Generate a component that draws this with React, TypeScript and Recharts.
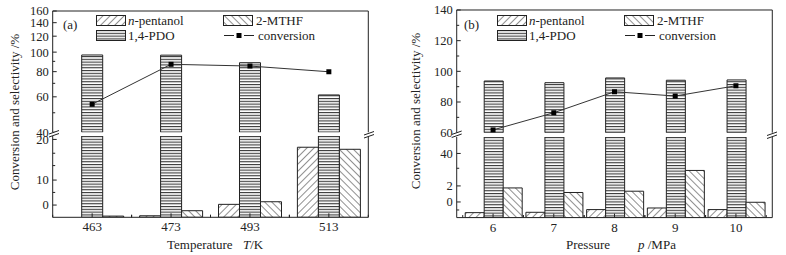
import React from 'react';
import { ComposedChart, Bar, Line, XAxis, YAxis } from 'recharts';

// (a) temperature series
const TEMPS = ['463', '473', '493', '513'];
const T_PENTANOL = [5.3, 5.44, 6.61, 17.5];
const T_MTHF = [5.41, 5.93, 6.91, 16.9];
const T_PDO = [96.8, 96.6, 88.6, 61.3];
const T_CONV = [55.1, 87.0, 85.3, 79.9];

// (b) pressure series
const PRESSURES = ['6', '7', '8', '9', '10'];
const P_PENTANOL = [-1.33, -1.29, -0.95, -0.75, -0.95];
const P_MTHF = [1.75, 1.18, 1.34, 3.93, -0.04];
const P_PDO = [93.7, 92.6, 95.7, 94.2, 94.4];
const P_CONV = [61.8, 73.0, 86.7, 83.9, 90.6];

// axis segments (broken axes)
const TA_UP_DOMAIN = [40, 160];
const TA_UP_TICKS = [40, 60, 80, 100, 120, 140, 160];
const TA_UP_LABELS = ['40', '60', '80', '100', '120', '140', '160'];
const TA_UP_MINOR = [50, 70, 90];
const TA_LOW_DOMAIN = [5.3, 21.2];
const TA_LOW_TICKS = [6.53, 10, 20];
const TA_LOW_LABELS = ['0', '10', '20'];
const TA_LOW_MINOR = [8.1, 12.8, 15.8];

const PB_UP_DOMAIN = [60, 140];
const PB_UP_TICKS = [60, 80, 100, 120, 140];
const PB_UP_LABELS = ['60', '80', '100', '120', '140'];
const PB_UP_MINOR = [70, 90, 110, 130];
const PB_LOW_DOMAIN = [-1.95, 8.1];
const PB_LOW_TICKS = [0, 2, 6.05];
const PB_LOW_LABELS = ['0', '2', '40'];
const PB_LOW_MINOR = [-1, 4.2];

const INK = '#222';
const FONT = '"Liberation Serif", "Times New Roman", serif';

const tempData = TEMPS.map((t, i) => ({
    cat: t, pentanol: T_PENTANOL[i], mthf: T_MTHF[i], pdo: T_PDO[i], conv: T_CONV[i],
}));
const presData = PRESSURES.map((p, i) => ({
    cat: p, pentanol: P_PENTANOL[i], mthf: P_MTHF[i], pdo: P_PDO[i], conv: P_CONV[i],
}));

function makeYTick(major: number[], labels: string[]) {
    return (props: any) => {
        const { x, y, payload } = props;
        const i = major.indexOf(payload.value);
        const isMajor = i >= 0;
        return (
            <g>
                <line x1={x} x2={x + (isMajor ? 4 : 2.5)} y1={y} y2={y} stroke={INK} />
                {isMajor && (
                    <text x={x - 4} y={y} dy="0.35em" textAnchor="end" fontSize={12.5} fontFamily={FONT} fill={INK}>
                        {labels[i]}
                    </text>
                )}
            </g>
        );
    };
}

const XTick = (props: any) => {
    const { x, y, payload } = props;
    const off = payload.offset ?? 0;
    return (
        <g>
            <line x1={x} x2={x} y1={y} y2={y - 4} stroke={INK} />
            {off > 0 && <line x1={x - off} x2={x - off} y1={y} y2={y - 2.5} stroke={INK} />}
            {off > 0 && <line x1={x + off} x2={x + off} y1={y} y2={y - 2.5} stroke={INK} />}
            <text x={x} y={y + 14} textAnchor="middle" fontSize={13} fontFamily={FONT} fill={INK}>
                {payload.value}
            </text>
        </g>
    );
};

const SquareDot = (props: any) => {
    const { cx, cy } = props;
    if (cx == null || cy == null) return null;
    return <rect x={cx - 2.5} y={cy - 2.5} width={5} height={5} fill="#000" />;
};

function Patterns() {
    return (
        <svg width={0} height={0} style={{ position: 'absolute' }}>
            <defs>
                <pattern id="hatchFwd" width={5} height={5} patternUnits="userSpaceOnUse" patternTransform="rotate(45)">
                    <rect width={5} height={5} fill="#fff" />
                    <line x1={0} y1={0} x2={0} y2={5} stroke={INK} strokeWidth={1} />
                </pattern>
                <pattern id="hatchBack" width={5} height={5} patternUnits="userSpaceOnUse" patternTransform="rotate(-45)">
                    <rect width={5} height={5} fill="#fff" />
                    <line x1={0} y1={0} x2={0} y2={5} stroke={INK} strokeWidth={1} />
                </pattern>
                <pattern id="hLines" width={6} height={2.8} patternUnits="userSpaceOnUse">
                    <rect width={6} height={2.8} fill="#fff" />
                    <line x1={0} y1={0.6} x2={6} y2={0.6} stroke={INK} strokeWidth={1} />
                </pattern>
            </defs>
        </svg>
    );
}

interface SegmentProps {
    data: any[];
    left: number;
    top: number;
    height: number;
    yWidth: number;
    marginTop: number;
    marginRight: number;
    marginBottom: number;
    domain: number[];
    ticks: number[];
    labels: string[];
    minor: number[];
    log?: boolean;
    upper: boolean;
    gap: number;
    xPad: number;
}

function Segment(p: SegmentProps) {
    const low = p.domain[0];
    // a bar that ends below this axis segment is not drawn in it
    const ranged = (key: string) => (d: any) => (d[key] > low ? [low, d[key]] : null);
    return (
        <div style={{ position: 'absolute', left: p.left, top: p.top }}>
            <ComposedChart
                width={393}
                height={p.height}
                data={p.data}
                margin={{ top: p.marginTop, right: p.marginRight, bottom: p.marginBottom, left: 0 }}
                barGap={0}
                barCategoryGap={p.gap}
            >
                {p.upper ? (
                    <XAxis dataKey="cat" hide padding={{ left: p.xPad, right: p.xPad }} />
                ) : (
                    <XAxis
                        dataKey="cat"
                        height={20}
                        interval={0}
                        tickSize={0}
                        tickMargin={0}
                        tickLine={false}
                        axisLine={{ stroke: INK }}
                        tick={XTick}
                        padding={{ left: p.xPad, right: p.xPad }}
                    />
                )}
                {p.upper && (
                    <XAxis xAxisId="top" orientation="top" dataKey="cat" height={1} tick={false} tickLine={false} axisLine={{ stroke: INK }} />
                )}
                <YAxis
                    type="number"
                    scale={p.log ? 'log' : 'linear'}
                    domain={p.domain}
                    allowDataOverflow
                    width={p.yWidth}
                    ticks={[...p.ticks, ...p.minor]}
                    interval={0}
                    tickSize={0}
                    tickMargin={0}
                    tickLine={false}
                    axisLine={{ stroke: INK }}
                    tick={makeYTick(p.ticks, p.labels)}
                />
                <YAxis yAxisId="r" orientation="right" width={1} tick={false} tickLine={false} axisLine={{ stroke: INK }} />
                <Bar dataKey={ranged('pentanol')} fill="url(#hatchFwd)" stroke={INK} strokeWidth={1} isAnimationActive={false} />
                <Bar dataKey={ranged('pdo')} fill="url(#hLines)" stroke={INK} strokeWidth={1} isAnimationActive={false} />
                <Bar dataKey={ranged('mthf')} fill="url(#hatchBack)" stroke={INK} strokeWidth={1} isAnimationActive={false} />
                {p.upper && (
                    <Line dataKey="conv" stroke="#333" strokeWidth={1} dot={SquareDot} isAnimationActive={false} />
                )}
            </ComposedChart>
        </div>
    );
}

const txt: React.CSSProperties = {
    position: 'absolute', fontFamily: FONT, fontSize: 13, color: INK, whiteSpace: 'nowrap', lineHeight: 1,
};

function Legend({ x, y, tag }: { x: number; y: number; tag: string }) {
    const sw = (fill: string) => (
        <svg width={30} height={11} style={{ display: 'block' }}>
            <rect x={0.5} y={0.5} width={29} height={10} fill={fill} stroke={INK} />
        </svg>
    );
    return (
        <>
            <div style={{ ...txt, left: x - 33, top: y + 4 }}>{tag}</div>
            <div style={{ ...txt, left: x, top: y, display: 'flex', alignItems: 'center', gap: 2 }}>
                {sw('url(#hatchFwd)')}<span><i>n</i>-pentanol</span>
            </div>
            <div style={{ ...txt, left: x + 127, top: y, display: 'flex', alignItems: 'center', gap: 3 }}>
                {sw('url(#hatchBack)')}<span>2-MTHF</span>
            </div>
            <div style={{ ...txt, left: x, top: y + 15, display: 'flex', alignItems: 'center', gap: 2 }}>
                {sw('url(#hLines)')}<span>1,4-PDO</span>
            </div>
            <div style={{ ...txt, left: x + 127, top: y + 15, display: 'flex', alignItems: 'center', gap: 3 }}>
                <svg width={32} height={11} style={{ display: 'block' }}>
                    <line x1={1} x2={11} y1={5.5} y2={5.5} stroke={INK} />
                    <line x1={21} x2={31} y1={5.5} y2={5.5} stroke={INK} />
                    <rect x={13.5} y={3} width={5} height={5} fill="#000" />
                </svg>
                <span>conversion</span>
            </div>
        </>
    );
}

function BreakMarks() {
    const pts = [[54, 134], [369, 135], [456.7, 134.5], [772, 135.5]];
    return (
        <svg width={786} height={255} style={{ position: 'absolute', left: 0, top: 0, pointerEvents: 'none' }}>
            {pts.map(([cx, cy], i) => (
                <g key={i}>
                    <polygon points={`${cx - 5},${cy} ${cx + 5},${cy - 3.5} ${cx + 5},${cy - 0.5} ${cx - 5},${cy + 3}`} fill="#fff" />
                    <line x1={cx - 5} y1={cy} x2={cx + 5} y2={cy - 3.5} stroke={INK} />
                    <line x1={cx - 5} y1={cy + 3} x2={cx + 5} y2={cy - 0.5} stroke={INK} />
                </g>
            ))}
        </svg>
    );
}

export default function App() {
    return (
        <div style={{ position: 'absolute', left: 0, top: 0, width: 786, height: 255, background: '#fff', overflow: 'hidden' }}>
            <style>{'.recharts-surface { overflow: visible; }'}</style>
            <Patterns />
            {/* panel (a) */}
            <Segment data={tempData} left={0} top={0} height={133} yWidth={52.7} marginTop={10} marginRight={23.7} marginBottom={0.7}
                domain={TA_UP_DOMAIN} ticks={TA_UP_TICKS} labels={TA_UP_LABELS} minor={TA_UP_MINOR} log upper gap={8} xPad={0} />
            <Segment data={tempData} left={0} top={136} height={119} yWidth={52.7} marginTop={0} marginRight={23.7} marginBottom={17.7}
                domain={TA_LOW_DOMAIN} ticks={TA_LOW_TICKS} labels={TA_LOW_LABELS} minor={TA_LOW_MINOR} log upper={false} gap={8} xPad={0} />
            {/* panel (b) */}
            <Segment data={presData} left={393} top={0} height={133.7} yWidth={63.7} marginTop={9} marginRight={12.7} marginBottom={1}
                domain={PB_UP_DOMAIN} ticks={PB_UP_TICKS} labels={PB_UP_LABELS} minor={PB_UP_MINOR} upper gap={2.5} xPad={6} />
            <Segment data={presData} left={393} top={136.7} height={118.3} yWidth={63.7} marginTop={0} marginRight={12.7} marginBottom={17.7}
                domain={PB_LOW_DOMAIN} ticks={PB_LOW_TICKS} labels={PB_LOW_LABELS} minor={PB_LOW_MINOR} upper={false} gap={2.5} xPad={6} />
            <BreakMarks />

            <Legend x={96} y={14} tag="(a)" />
            <Legend x={497} y={14} tag="(b)" />

            <div style={{ ...txt, left: 14, top: 112, transform: 'translate(-50%, -50%) rotate(-90deg)' }}>
                Conversion and selectivity /%
            </div>
            <div style={{ ...txt, left: 415, top: 111, transform: 'translate(-50%, -50%) rotate(-90deg)' }}>
                Conversion and selectivity /%
            </div>
            <div style={{ ...txt, left: 167, top: 238 }}>Temperature</div>
            <div style={{ ...txt, left: 243, top: 238 }}><i>T</i>/K</div>
            <div style={{ ...txt, left: 566, top: 238 }}>Pressure</div>
            <div style={{ ...txt, left: 638, top: 238 }}><i>p</i> /MPa</div>
        </div>
    );
}
